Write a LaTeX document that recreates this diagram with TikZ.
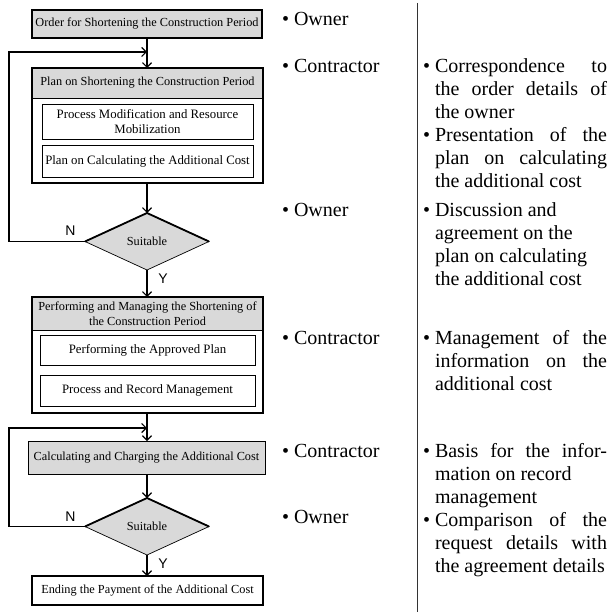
\documentclass[tikz,border=0pt]{standalone}
\usepackage{fontspec}
\setmainfont{Liberation Serif}
\newfontfamily\sansf{Liberation Sans}
\usetikzlibrary{arrows.meta,shapes.geometric,shadows}
\definecolor{boxgray}{RGB}{217,217,217}
\newlength{\bulw}
\newcommand{\bul}{\settowidth{\bulw}{•\ }\hangindent=\bulw\hangafter=1\noindent\makebox[\bulw][l]{•}}
\begin{document}
\begin{tikzpicture}[x=1pt,y=-1pt,
  every node/.style={inner sep=0pt,outer sep=0pt},
  boxfont/.style={font=\fontsize{12.3}{15}\selectfont,align=center},
  innerfont/.style={font=\fontsize{12.8}{14.5}\selectfont,align=center},
  shadowbox/.style={draw,line width=1.3pt,boxfont,
    drop shadow={shadow xshift=1.3pt,shadow yshift=-1.3pt,opacity=1,fill=black}},
  framebox/.style={draw,line width=2.2pt},
  headbox/.style={draw,line width=0.6pt,fill=boxgray,boxfont},
  innerbox/.style={draw,line width=0.7pt,fill=white,innerfont},
  graybox/.style={draw,line width=0.8pt,fill=boxgray,boxfont},
  decision/.style={diamond,draw,line width=0.7pt,fill=boxgray,boxfont,
    minimum width=124pt,minimum height=57pt},
  arr/.style={line width=1.2pt,-{Straight Barb[length=4.5pt,width=9pt,line width=1.2pt]}},
  yn/.style={font=\sansf\fontsize{14}{14}\selectfont},
  role/.style={anchor=base west,font=\fontsize{20}{23}\selectfont},
  desc/.style={anchor=base west,text width=184pt,align=justify,
    font=\fontsize{20}{23}\selectfont}
]
\useasboundingbox (0,0) rectangle (611,612);

% ---------- flow chart ----------
\node[shadowbox,fill=boxgray,minimum width=230pt,minimum height=28pt] (b1) at (147,24)
  {Order for Shortening the Construction Period};

\node[framebox,fill=white,minimum width=231pt,minimum height=115pt] (b2) at (147.5,125.5) {};
\node[headbox,minimum width=231pt,minimum height=30pt] (b2h) at (147.5,83)
  {Plan on Shortening the Construction Period};
\node[innerbox,minimum width=211pt,minimum height=35pt] (b2a) at (147.5,121.5)
  {Process Modification and Resource\\Mobilization};
\node[innerbox,minimum width=211pt,minimum height=32pt] (b2b) at (147.5,161)
  {Plan on Calculating the Additional Cost};
\draw[line width=2.2pt] (b2.north west) rectangle (b2.south east);

\node[decision] (d1) at (147,241.5) {Suitable};
\draw[line width=1.8pt,line join=round] (d1.west) -- (d1.north) -- (d1.east);

\node[framebox,fill=white,minimum width=231pt,minimum height=116pt] (b3) at (147.5,355) {};
\node[headbox,minimum width=231pt,minimum height=33pt] (b3h) at (147.5,313.5)
  {Performing and Managing the Shortening of\\the Construction Period};
\node[innerbox,minimum width=215pt,minimum height=30pt] (b3a) at (147.5,350)
  {Performing the Approved Plan};
\node[innerbox,minimum width=215pt,minimum height=31pt] (b3b) at (147.5,390.5)
  {Process and Record Management};
\draw[line width=2.2pt] (b3.north west) rectangle (b3.south east);

\node[graybox,minimum width=237pt,minimum height=33pt] (b4) at (146.5,457.5)
  {Calculating and Charging the Additional Cost};

\node[decision] (d2) at (147,526.5) {Suitable};
\draw[line width=1.8pt,line join=round] (d2.west) -- (d2.north) -- (d2.east);

\node[shadowbox,fill=white,minimum width=231pt,minimum height=29pt] (b5) at (147.5,590.5)
  {Ending the Payment of the Additional Cost};

% junction points of the loops
\coordinate (j1) at (147,52);
\coordinate (j2) at (147,428);

% connectors
\draw[arr] (b1.south) -- (b1.south |- b2.north);
\draw[arr] (b2.south -| d1.north) -- (d1.north);
\draw[arr] (d1.south) -- (d1.south |- b3.north);
\draw[arr] (b3.south -| d1.south) -- (d1.south |- b4.north);
\draw[arr] (b4.south -| d2.north) -- (d2.north);
\draw[arr] (d2.south) -- (d2.south |- b5.north);
\draw[arr] (d1.west) -- (9,241.5) |- (j1);
\draw[arr] (d2.west) -- (9,526.5) |- (j2);

\node[yn] (n1) at (70.5,231) {N};
\node[yn] (y1) at (163,279) {Y};
\node[yn] (n2) at (70.5,516.5) {N};
\node[yn] (y2) at (163,564) {Y};

% ---------- right-hand columns ----------
\draw[line width=0.7pt,black!80] (417,3) -- (417,612);

\node[role] (r1) at (282,26) {•\ Owner};
\node[role] (r2) at (282,73) {•\ Contractor};
\node[role] (r3) at (282,216) {•\ Owner};
\node[role] (r4) at (282,344) {•\ Contractor};
\node[role] (r5) at (282,457) {•\ Contractor};
\node[role] (r6) at (282,523) {•\ Owner};

\node[desc] (t1) at (423,73) {\bul Correspondence to\linebreak
  the order details of\linebreak the owner\par
  \bul Presentation of the\linebreak
  plan on calculating\linebreak the additional cost\par};
\node[desc] (t2) at (423,216) {\bul Discussion and\newline
  agreement on the\newline plan on calculating\newline the additional cost\par};
\node[desc] (t3) at (423,344) {\bul Management of the\linebreak
  information on the\linebreak additional cost\par};
\node[desc] (t4) at (423,457) {\bul Basis for the infor-\linebreak
  mation on record\newline management\par};
\node[desc] (t5) at (423,526) {\bul Comparison of the\linebreak
  request details with\linebreak the agreement details\par};
\end{tikzpicture}
\end{document}
